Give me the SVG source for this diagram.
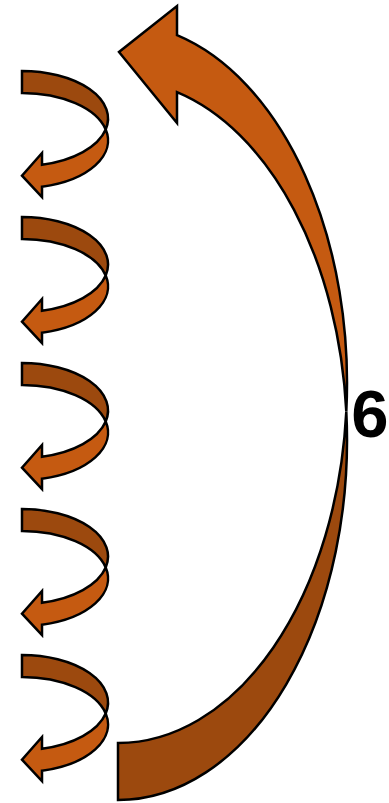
<svg xmlns="http://www.w3.org/2000/svg" xmlns:xlink="http://www.w3.org/1999/xlink" width="389" height="803" viewBox="0 0 389 803">
  <style>
    .light { fill: #C55A11; stroke: #000; stroke-width: 2.5; stroke-linejoin: miter; }
    .dark { fill: #9C490E; stroke: #000; stroke-width: 2.5; stroke-linejoin: miter; }
    .lbl { font-family: "Liberation Sans", Arial, sans-serif; font-weight: bold; font-size: 67px; fill: #000; }
  </style>
  <defs>
    <g id="smallArrow">
      <path class="dark" d="M22,0 L22,22 A86,47.5 0 0 1 105.7,58.5 A86,47.5 0 0 0 22,0 Z"/>
      <path class="light" d="M105.7,58.5 A86,47.5 0 0 1 42,93.7 L42,82 L22,104.7 L42,126 L42,115.7 A86,47.5 0 0 0 105.7,58.5 Z"/>
    </g>
  </defs>
  <rect width="389" height="803" fill="#fff"/>
  <g id="big-arrow">
    <path class="dark" d="M118,743 L118,800 A229,360 0 0 0 346.3,411.5 A229,360 0 0 1 118,743 Z"/>
    <path class="light" d="M177,35.2 A229,360 0 0 1 346.3,411.5 A229,360 0 0 0 177,92.2 L177,123 L119,52 L177,6 Z"/>
  </g>
  <g id="small-arrow-1"><use xlink:href="#smallArrow" href="#smallArrow" transform="translate(0,71)"/></g>
  <g id="small-arrow-2"><use xlink:href="#smallArrow" href="#smallArrow" transform="translate(0,217)"/></g>
  <g id="small-arrow-3"><use xlink:href="#smallArrow" href="#smallArrow" transform="translate(0,363)"/></g>
  <g id="small-arrow-4"><use xlink:href="#smallArrow" href="#smallArrow" transform="translate(0,509)"/></g>
  <g id="small-arrow-5"><use xlink:href="#smallArrow" href="#smallArrow" transform="translate(0,655)"/></g>
  <g id="label-6">
    <text class="lbl" x="370" y="437" text-anchor="middle">6</text>
  </g>
  <g id="connectors"/>
</svg>
